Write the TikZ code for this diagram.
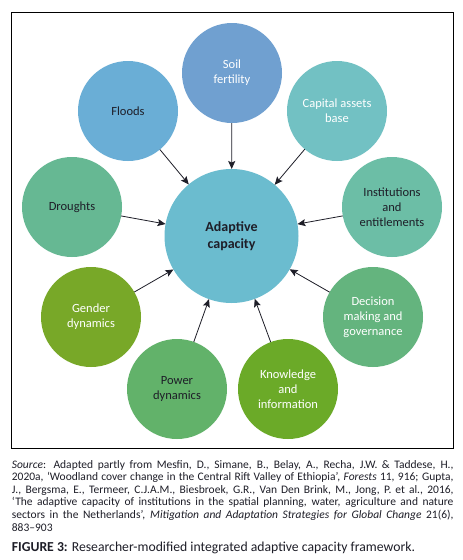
\documentclass[tikz,border=0pt]{standalone}
\usepackage{fontspec}
\setmainfont{Carlito}
\usetikzlibrary{arrows.meta}
\definecolor{txtdark}{HTML}{1E1E28}
\definecolor{cSoil}{HTML}{70A0D0}
\definecolor{cFlood}{HTML}{6AAED6}
\definecolor{cCap}{HTML}{72C1C3}
\definecolor{cDrought}{HTML}{66B893}
\definecolor{cInst}{HTML}{6CBEA6}
\definecolor{cAdapt}{HTML}{6BBCCF}
\definecolor{cGender}{HTML}{78A828}
\definecolor{cPower}{HTML}{62B26A}
\definecolor{cKnow}{HTML}{6BAA28}
\definecolor{cDec}{HTML}{64B47E}
\tikzset{
  bubble/.style={circle, minimum size=100pt, inner sep=0pt, outer sep=0pt, align=center,
    font=\fontsize{12.5}{15}\selectfont},
  darktext/.style={text=txtdark},
  lighttext/.style={text=white},
  arr/.style={-{Stealth[length=8pt,width=7pt,inset=1.5pt]}, line width=0.8pt, draw=txtdark}
}
\begin{document}
\begin{tikzpicture}[x=1pt,y=-1pt]
\useasboundingbox (0,0) rectangle (463,560);
\fill[white] (0,0) rectangle (463,560);
\draw[line width=1pt, black] (11.7,12.7) rectangle (453.3,448.5);

\node[circle, fill=cAdapt, minimum size=134pt, inner sep=0pt, outer sep=0pt, align=center,
  font=\fontsize{14}{16.7}\selectfont\bfseries, text=txtdark] (ac) at (231.5,236) {Adaptive\\capacity};

\node[bubble, fill=cSoil, lighttext] (soil) at (232,73) {Soil\\fertility};
\node[bubble, fill=cFlood, darktext] (flood) at (128,111) {Floods};
\node[bubble, fill=cCap, lighttext] (cap) at (337,111) {Capital assets\\base};
\node[bubble, fill=cDrought, darktext] (drought) at (72,207) {Droughts};
\node[bubble, fill=cInst, darktext] (inst) at (392,207) {Institutions\\and\\entitlements};
\node[bubble, fill=cGender, lighttext] (gender) at (91,317) {Gender\\dynamics};
\node[bubble, fill=cPower, darktext] (power) at (177,389) {Power\\dynamics};
\node[bubble, fill=cKnow, lighttext] (know) at (288,389) {Knowledge\\and\\information};
\node[bubble, fill=cDec, lighttext] (dec) at (373,317) {Decision\\making and\\governance};

\draw[arr] (soil) -- (ac);
\draw[arr] (flood) -- (ac);
\draw[arr] (cap) -- (ac);
\draw[arr] (drought) -- (ac);
\draw[arr] (inst) -- (ac);
\draw[arr] (gender) -- (ac);
\draw[arr] (power) -- (ac);
\draw[arr] (know) -- (ac);
\draw[arr] (dec) -- (ac);

\node[anchor=north west, inner sep=0pt, text width=441.6pt, align=justify, text=txtdark,
  font=\fontsize{11.5}{12.6}\selectfont] (src) at (11.7,460)
{\textit{Source}: Adapted partly from Mesfin, D., Simane, B., Belay, A., Recha, J.W. \& Taddese, H.,\linebreak
2020a, ‘Woodland cover change in the Central Rift Valley of Ethiopia’, \textit{Forests} 11, 916; Gupta,\linebreak
J., Bergsma, E., Termeer, C.J.A.M., Biesbroek, G.R., Van Den Brink, M., Jong, P. et al., 2016,\linebreak
‘The adaptive capacity of institutions in the spatial planning, water, agriculture and nature\linebreak
sectors in the Netherlands’, \textit{Mitigation and Adaptation Strategies for Global Change} 21(6),\linebreak
883–903};

\node[anchor=base west, inner sep=0pt, text=txtdark, font=\fontsize{13.7}{16}\selectfont] (cap3) at (11.7,551)
{\textbf{FIGURE 3:} Researcher-modified integrated adaptive capacity framework.};
\end{tikzpicture}
\end{document}
